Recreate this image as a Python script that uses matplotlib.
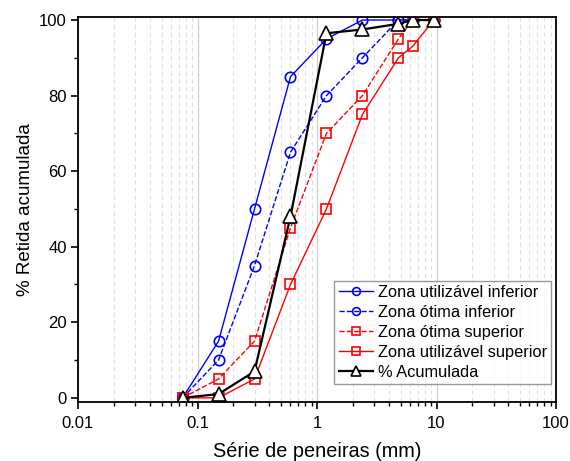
import numpy as np
import matplotlib
matplotlib.use('Agg')
import matplotlib.pyplot as plt
from matplotlib.ticker import LogLocator, FixedLocator, MultipleLocator, NullFormatter

plt.rcParams['font.family'] = ['Liberation Sans', 'DejaVu Sans']

# peneiras (mm)
sieves = [0.075, 0.15, 0.3, 0.6, 1.2, 2.4, 4.8, 6.3, 9.5]
util_inf = [0, 15, 50, 85, 95, 100, 100, 100, 100]
otima_inf = [0, 10, 35, 65, 80, 90, 100, 100, 100]
otima_sup = [0, 5, 15, 45, 70, 80, 95, 100, 100]
util_sup = [0, 0, 5, 30, 50, 75, 90, 93, 100]
acumulada = [0, 1, 7, 48, 96.5, 97.5, 99, 100, 100]

fig = plt.figure(figsize=(5.70, 4.61), dpi=100)
ax = fig.add_axes([78/570, 1-402/461, (556-78)/570, (402-17)/461])

ax.plot(sieves, util_inf, '-', color='#0000ff', lw=1.0, marker='o', ms=7.5,
        mfc='none', mew=1.2, label='Zona utilizável inferior')
ax.plot(sieves, otima_inf, '--', color='#0000ff', lw=1.0, marker='o', ms=7.5,
        mfc='none', mew=1.2, label='Zona ótima inferior')
ax.plot(sieves, otima_sup, '--', color='#ff0000', lw=1.0, marker='s', ms=7,
        mfc='none', mew=1.2, label='Zona ótima superior')
ax.plot(sieves, util_sup, '-', color='#ff0000', lw=1.0, marker='s', ms=7,
        mfc='none', mew=1.2, label='Zona utilizável superior')
ax.plot(sieves, acumulada, '-', color='black', lw=1.6, marker='^', ms=10,
        mfc='white', mew=1.2, label='% Acumulada')

ax.set_xscale('log')
ax.set_xlim(0.01, 100)
ax.set_ylim(-1.1, 100.8)
ax.xaxis.set_major_locator(FixedLocator([0.01, 0.1, 1, 10, 100]))
ax.set_xticklabels(['0.01', '0.1', '1', '10', '100'])
ax.xaxis.set_minor_locator(LogLocator(base=10, subs=np.arange(2, 10), numticks=20))
ax.xaxis.set_minor_formatter(NullFormatter())
ax.yaxis.set_major_locator(MultipleLocator(20))
ax.yaxis.set_minor_locator(MultipleLocator(10))

ax.grid(True, axis='x', which='major', color='#cfcfcf', lw=0.9, ls='-')
ax.grid(True, axis='x', which='minor', color='#e0e0e0', lw=0.8, ls=(0, (4, 3)))
ax.set_axisbelow(True)

ax.tick_params(which='major', direction='out', length=5, width=1.2, labelsize=12)
ax.tick_params(which='minor', direction='out', length=3, width=1.0)
ax.tick_params(axis='x', which='major', pad=5)
ax.tick_params(axis='y', which='major', pad=3)
for s in ax.spines.values():
    s.set_linewidth(1.3)

ax.set_xlabel('Série de peneiras (mm)', fontsize=14.3, labelpad=8)
ax.set_ylabel('% Retida acumulada', fontsize=13.5, labelpad=4)

leg = ax.legend(loc='lower right', bbox_to_anchor=(1.0, 0.035), fontsize=11.8,
                frameon=True, fancybox=False, edgecolor='#808080',
                handlelength=2.1, handletextpad=0.3, borderpad=0.25,
                labelspacing=0.3, borderaxespad=0.3, markerscale=0.75)
leg.get_frame().set_linewidth(1.0)

fig.savefig('out.png', dpi=100)
